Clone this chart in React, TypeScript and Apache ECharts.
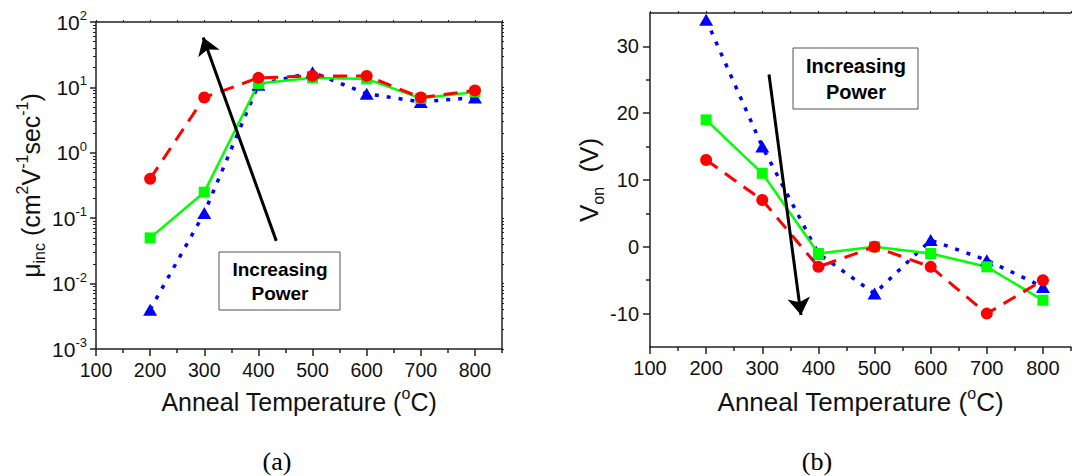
import React, { useEffect, useRef } from "react";
import * as echarts from "echarts";

const temps = [200, 300, 400, 500, 600, 700, 800];
const muRed = [0.4, 7, 14, 15, 15, 7, 9];
const muGreen = [0.05, 0.25, 11.5, 14, 13.5, 6.8, 8.5];
const muBlue = [0.004, 0.12, 11, 17, 8, 6, 7];
const vonRed = [13, 7, -3, 0, -3, -10, -5];
const vonGreen = [19, 11, -1, 0, -1, -3, -8];
const vonBlue = [34, 15, -1, -7, 1, -2, -6];

const xMajorTicks = [100, 200, 300, 400, 500, 600, 700, 800];
const xMinorTicks = [150, 250, 350, 450, 550, 650, 750, 850];
const xTopTicks = [100, 150, 200, 250, 300, 350, 400, 450, 500, 550, 600, 650, 700, 750, 800, 850];
const logMajorTicks = [0.001, 0.01, 0.1, 1, 10, 100];
const logMinorTicks = [
  0.002, 0.003, 0.004, 0.005, 0.006, 0.007, 0.008, 0.009,
  0.02, 0.03, 0.04, 0.05, 0.06, 0.07, 0.08, 0.09,
  0.2, 0.3, 0.4, 0.5, 0.6, 0.7, 0.8, 0.9,
  2, 3, 4, 5, 6, 7, 8, 9,
  20, 30, 40, 50, 60, 70, 80, 90,
];
const vonMajorTicks = [-10, 0, 10, 20, 30];
const vonMinorTicks = [-5, 5, 15, 25];

// arrows: [tail, head] in data coordinates
const arrowA = [[433, 0.045], [298, 58]];
const arrowB = [[312, 25.8], [369, -10.2]];

const FONT = '"Liberation Sans", Arial, sans-serif';
const AXIS_COLOR = "#222";

const pairs = (xs: number[], ys: number[]) => xs.map((x, i) => [x, ys[i]]);

export default function App() {
  const ref = useRef<HTMLDivElement>(null);
  useEffect(() => {
    if (!ref.current) return;
    const chart = echarts.init(ref.current, null, { renderer: "svg" });

    const axisLine = { show: true, onZero: false, lineStyle: { color: AXIS_COLOR, width: 1.5 } };
    const supRich = {
      b: { fontSize: 21, fontFamily: FONT, color: "#111", lineHeight: 26 },
      sup: { fontSize: 13, fontFamily: FONT, color: "#111", verticalAlign: "top", lineHeight: 13 },
    };
    const nameRich = (size: number) => ({
      t: { fontSize: size, fontFamily: FONT, color: "#111", lineHeight: size + 8 },
      sup: { fontSize: Math.round(size * 0.62), fontFamily: FONT, color: "#111", verticalAlign: "top", lineHeight: 14 },
      sub: { fontSize: Math.round(size * 0.62), fontFamily: FONT, color: "#111", verticalAlign: "bottom", lineHeight: 14 },
    });

    const mainX = (gridIndex: number, nameGap: number, size: number, labelSize: number) => ({
      type: "value",
      gridIndex,
      position: "bottom",
      min: 100,
      max: 850,
      name: "{t|Anneal Temperature (}{sup|o}{t|C)}",
      nameLocation: "middle",
      nameGap,
      nameTextStyle: { rich: nameRich(size) },
      axisLine,
      axisTick: { show: true, inside: false, length: 7, customValues: xMajorTicks, lineStyle: { color: AXIS_COLOR, width: 1.5 } },
      axisLabel: { show: true, customValues: xMajorTicks, margin: 11, fontSize: labelSize, fontFamily: FONT, color: "#111" },
      splitLine: { show: false },
    });
    const minorX = (gridIndex: number) => ({
      type: "value",
      gridIndex,
      position: "bottom",
      min: 100,
      max: 850,
      axisLine: { show: false, onZero: false },
      axisTick: { show: true, length: 4, customValues: xMinorTicks, lineStyle: { color: AXIS_COLOR, width: 1.5 } },
      axisLabel: { show: false },
      splitLine: { show: false },
    });
    const topX = (gridIndex: number) => ({
      type: "value",
      gridIndex,
      position: "top",
      min: 100,
      max: 850,
      axisLine,
      axisTick: { show: true, length: 2, customValues: xTopTicks, lineStyle: { color: AXIS_COLOR, width: 1 } },
      axisLabel: { show: false },
      splitLine: { show: false },
    });

    const lineSeries = (
      name: string,
      data: number[][],
      color: string,
      symbol: string,
      symbolSize: any,
      lineType: any,
      width: number,
      xi: number,
      yi: number,
      extra: any = {}
    ) => ({
      name,
      type: "line",
      xAxisIndex: xi,
      yAxisIndex: yi,
      data,
      symbol,
      symbolSize,
      showSymbol: true,
      silent: true,
      clip: false,
      lineStyle: { color, width, type: lineType, cap: "butt" },
      itemStyle: { color, borderWidth: 0 },
      emphasis: { disabled: true },
      ...extra,
    });

    const arrowMark = (a: number[][]) => ({
      markLine: {
        silent: true,
        symbol: ["none", "arrow"],
        symbolSize: 17,
        label: { show: false },
        lineStyle: { color: "#000", width: 3, type: "solid" },
        emphasis: { disabled: true },
        data: [[{ coord: a[0] }, { coord: a[1] }]],
      },
    });

    const option: any = {
      animation: false,
      grid: [
        { left: 96, top: 22, width: 406, height: 327 },
        { left: 650, top: 13, width: 421, height: 334 },
      ],
      xAxis: [
        mainX(0, 36, 25, 19.5),
        minorX(0),
        topX(0),
        mainX(1, 38, 26, 20),
        minorX(1),
        topX(1),
      ],
      yAxis: [
        {
          type: "log",
          gridIndex: 0,
          position: "left",
          min: 0.001,
          max: 100,
          logBase: 10,
          name:
            "{t|μ}{sub|inc}{t| (cm}{sup|2}{t|V}{sup|-1}{t|sec}{sup|-1}{t|)}",
          nameLocation: "middle",
          nameGap: 49,
          nameTextStyle: { rich: nameRich(25) },
          axisLine,
          axisTick: { show: true, length: 6, customValues: logMajorTicks, lineStyle: { color: AXIS_COLOR, width: 1.5 } },
          axisLabel: {
            show: true,
            customValues: logMajorTicks,
            margin: 9,
            formatter: (v: number) => `{b|10}{sup|${Math.round(Math.log10(v))}}`,
            rich: supRich,
          },
          splitLine: { show: false },
          minorTick: { show: false },
        },
        {
          type: "log",
          gridIndex: 0,
          position: "left",
          min: 0.001,
          max: 100,
          logBase: 10,
          axisLine: { show: false, onZero: false },
          axisTick: { show: true, length: 3, customValues: logMinorTicks, lineStyle: { color: AXIS_COLOR, width: 1 } },
          axisLabel: { show: false },
          splitLine: { show: false },
        },
        {
          type: "log",
          gridIndex: 0,
          position: "right",
          min: 0.001,
          max: 100,
          logBase: 10,
          axisLine,
          axisTick: { show: true, length: 2, customValues: [...logMajorTicks, ...logMinorTicks], lineStyle: { color: AXIS_COLOR, width: 1 } },
          axisLabel: { show: false },
          splitLine: { show: false },
        },
        {
          type: "value",
          gridIndex: 1,
          position: "left",
          min: -15,
          max: 35,
          name: "{t|V}{sub|on}{t|  (V)}",
          nameLocation: "middle",
          nameGap: 44,
          nameTextStyle: { rich: nameRich(26) },
          axisLine,
          axisTick: { show: true, length: 7, customValues: vonMajorTicks, lineStyle: { color: AXIS_COLOR, width: 1.5 } },
          axisLabel: { show: true, customValues: vonMajorTicks, margin: 11, fontSize: 20, fontFamily: FONT, color: "#111" },
          splitLine: { show: false },
        },
        {
          type: "value",
          gridIndex: 1,
          position: "left",
          min: -15,
          max: 35,
          axisLine: { show: false, onZero: false },
          axisTick: { show: true, length: 4, customValues: vonMinorTicks, lineStyle: { color: AXIS_COLOR, width: 1.5 } },
          axisLabel: { show: false },
          splitLine: { show: false },
        },
      ],
      series: [
        lineSeries("blueA", pairs(temps, muBlue), "#0000FF", "triangle", [14, 12], [4, 8], 3.5, 0, 0),
        lineSeries("greenA", pairs(temps, muGreen), "#00FF00", "rect", 11, "solid", 2.5, 0, 0),
        lineSeries("redA", pairs(temps, muRed), "#FF0000", "circle", 12, [14, 9], 3, 0, 0, arrowMark(arrowA)),
        lineSeries("blueB", pairs(temps, vonBlue), "#0000FF", "triangle", [14, 12], [4, 8], 3.5, 3, 3),
        lineSeries("greenB", pairs(temps, vonGreen), "#00FF00", "rect", 11, "solid", 2.5, 3, 3),
        lineSeries("redB", pairs(temps, vonRed), "#FF0000", "circle", 12, [14, 9], 3, 3, 3, arrowMark(arrowB)),
      ],
      graphic: [
        {
          type: "rect",
          shape: { x: 219, y: 252, width: 121, height: 58 },
          style: { fill: "#fff", stroke: "#555", lineWidth: 1 },
          z: 10,
        },
        {
          type: "text",
          x: 280,
          y: 281,
          z: 11,
          style: {
            text: "Increasing\nPower",
            fontSize: 19,
            fontWeight: "bold",
            fontFamily: FONT,
            fill: "#000",
            align: "center",
            verticalAlign: "middle",
            lineHeight: 24,
          },
        },
        {
          type: "rect",
          shape: { x: 793, y: 48, width: 125, height: 61 },
          style: { fill: "#fff", stroke: "#555", lineWidth: 1 },
          z: 10,
        },
        {
          type: "text",
          x: 856,
          y: 79,
          z: 11,
          style: {
            text: "Increasing\nPower",
            fontSize: 20,
            fontWeight: "bold",
            fontFamily: FONT,
            fill: "#000",
            align: "center",
            verticalAlign: "middle",
            lineHeight: 26,
          },
        },
        {
          type: "text",
          x: 277,
          y: 461,
          style: {
            text: "(a)",
            fontSize: 26,
            fontFamily: '"Liberation Serif", "Times New Roman", serif',
            fill: "#000",
            align: "center",
            verticalAlign: "middle",
          },
        },
        {
          type: "text",
          x: 817,
          y: 461,
          style: {
            text: "(b)",
            fontSize: 26,
            fontFamily: '"Liberation Serif", "Times New Roman", serif',
            fill: "#000",
            align: "center",
            verticalAlign: "middle",
          },
        },
      ],
    };

    chart.setOption(option);
    return () => chart.dispose();
  }, []);

  return (
    <div
      ref={ref}
      style={{ position: "fixed", left: 0, top: 0, width: 1073, height: 476, background: "#fff" }}
    />
  );
}
